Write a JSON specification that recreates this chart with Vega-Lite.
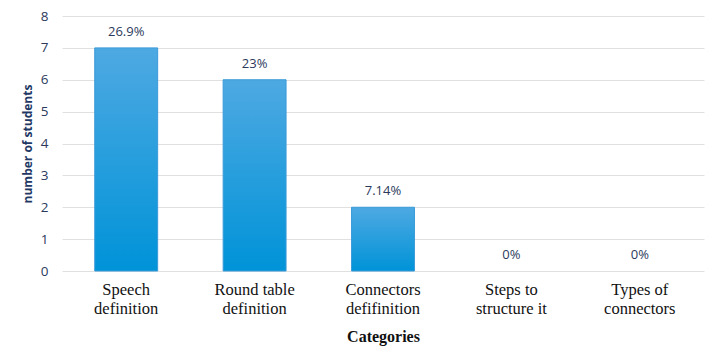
{
  "$schema": "https://vega.github.io/schema/vega-lite/v6.json",
  "width": 642,
  "height": 255,
  "autosize": {"type": "none"},
  "padding": {"left": 62, "top": 16, "right": 18, "bottom": 91},
  "background": "white",
  "config": {"view": {"stroke": null}},
  "data": {
    "values": [
      {"category": "Speech\ndefinition", "students": 7, "label": "26.9%"},
      {"category": "Round table\ndefinition", "students": 6, "label": "23%"},
      {"category": "Connectors\ndefifinition", "students": 2, "label": "7.14%"},
      {"category": "Steps to\nstructure it", "students": 0, "label": "0%"},
      {"category": "Types of\nconnectors", "students": 0, "label": "0%"}
    ]
  },
  "encoding": {
    "x": {
      "field": "category",
      "type": "nominal",
      "sort": null,
      "scale": {"paddingInner": 0.51, "paddingOuter": 0.255},
      "axis": {
        "title": "Categories",
        "titleFont": "Liberation Serif",
        "titleFontSize": 16,
        "titleFontWeight": "bold",
        "titleColor": "#111111",
        "titlePadding": 12,
        "labelFont": "Liberation Serif",
        "labelFontSize": 16.5,
        "labelColor": "#111111",
        "labelAngle": 0,
        "labelPadding": 10,
        "labelLineHeight": 19,
        "labelExpr": "split(datum.value, '\\n')",
        "domain": false,
        "ticks": false,
        "grid": false
      }
    },
    "y": {
      "field": "students",
      "type": "quantitative",
      "scale": {"domain": [0, 8]},
      "axis": {
        "title": "number of students",
        "titleFont": "Open Sans",
        "titleFontSize": 12,
        "titleFontWeight": "bold",
        "titleColor": "#1f3864",
        "titlePadding": 6,
        "labelFont": "Open Sans",
        "labelFontSize": 13.5,
        "labelColor": "#2b3a5c",
        "labelPadding": 14,
        "values": [0, 1, 2, 3, 4, 5, 6, 7, 8],
        "labelOverlap": false,
        "domain": false,
        "ticks": false,
        "grid": true,
        "gridColor": "#e0e0e0",
        "gridWidth": 1
      }
    }
  },
  "layer": [
    {
      "transform": [{"filter": "datum.students > 0"}],
      "mark": {
        "type": "bar",
        "stroke": "#3a9ad8",
        "strokeWidth": 1,
        "color": {
          "gradient": "linear",
          "x1": 0, "y1": 0, "x2": 0, "y2": 1,
          "stops": [
            {"offset": 0, "color": "#4ea9e2"},
            {"offset": 1, "color": "#0093d8"}
          ]
        }
      }
    },
    {
      "mark": {
        "type": "text",
        "dy": -16,
        "font": "Open Sans",
        "fontSize": 13,
        "color": "#2b3a5c"
      },
      "encoding": {"text": {"field": "label"}}
    }
  ]
}
